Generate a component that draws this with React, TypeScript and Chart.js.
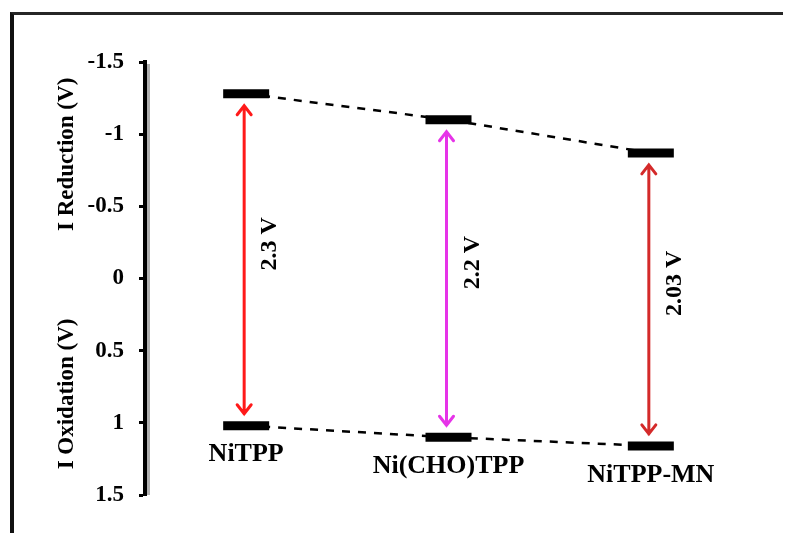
import React, { useEffect, useRef } from "react";
import { Chart, registerables } from "chart.js";

Chart.register(...registerables);

// Energy levels (V) for each porphyrin
const categories = ["NiTPP", "Ni(CHO)TPP", "NiTPP-MN"];
const reductionLevels = [-1.28, -1.1, -0.87];
const oxidationLevels = [1.02, 1.1, 1.16];
const gapLabels = ["2.3 V", "2.2 V", "2.03 V"];
const arrowColors = ["#ff1a1a", "#e633e8", "#d42a2a"];
const yTicks = [-1.5, -1, -0.5, 0, 0.5, 1, 1.5];
const reductionTitle = "I Reduction (V)";
const oxidationTitle = "I Oxidation (V)";

const FONT = "'Liberation Serif', 'Times New Roman', serif";

const annotate = {
  id: "annotate",
  afterDatasetsDraw(chart: any) {
    const { ctx, chartArea } = chart;
    const xs = chart.scales.x;
    const ys = chart.scales.y;
    ctx.save();

    // soft shadow beside the value axis
    ctx.strokeStyle = "#b0b0b0";
    ctx.lineWidth = 3;
    ctx.beginPath();
    ctx.moveTo(chartArea.left + 3.5, chartArea.top + 2);
    ctx.lineTo(chartArea.left + 3.5, chartArea.bottom);
    ctx.stroke();

    // double-headed arrows for each gap
    categories.forEach((name, i) => {
      const x = xs.getPixelForValue(i) - 2;
      const yTop = ys.getPixelForValue(reductionLevels[i]) + 12;
      const yBot = ys.getPixelForValue(oxidationLevels[i]) - 12;
      ctx.strokeStyle = arrowColors[i];
      ctx.lineWidth = 3;
      ctx.lineCap = "round";
      ctx.beginPath();
      ctx.moveTo(x, yTop);
      ctx.lineTo(x, yBot);
      ctx.moveTo(x - 7, yTop + 9);
      ctx.lineTo(x, yTop);
      ctx.lineTo(x + 7, yTop + 9);
      ctx.moveTo(x - 7, yBot - 9);
      ctx.lineTo(x, yBot);
      ctx.lineTo(x + 7, yBot - 9);
      ctx.stroke();

      // gap label, rotated
      const mid = (yTop + yBot) / 2 - 16;
      ctx.save();
      ctx.translate(x + 26, mid);
      ctx.rotate(-Math.PI / 2);
      ctx.fillStyle = "#000";
      ctx.font = `bold 24px ${FONT}`;
      ctx.textAlign = "center";
      ctx.textBaseline = "middle";
      ctx.fillText(gapLabels[i], 0, 0);
      ctx.restore();

      // compound name under the oxidation level
      ctx.fillStyle = "#000";
      ctx.font = `bold 26px ${FONT}`;
      ctx.textAlign = "center";
      ctx.textBaseline = "middle";
      ctx.fillText(name, xs.getPixelForValue(i), ys.getPixelForValue(oxidationLevels[i]) + 29);
    });

    // split axis titles
    const titleX = chartArea.left - 78;
    [
      [reductionTitle, -0.86],
      [oxidationTitle, 0.8],
    ].forEach(([text, v]: any) => {
      ctx.save();
      ctx.translate(titleX, ys.getPixelForValue(v));
      ctx.rotate(-Math.PI / 2);
      ctx.fillStyle = "#000";
      ctx.font = `bold 23px ${FONT}`;
      ctx.textAlign = "center";
      ctx.textBaseline = "middle";
      ctx.fillText(text, 0, 0);
      ctx.restore();
    });

    ctx.restore();
  },
};

export default function App() {
  const canvasRef = useRef<HTMLCanvasElement | null>(null);

  useEffect(() => {
    if (!canvasRef.current) return;
    const levelBar = (data: number[]) => ({
      type: "line" as const,
      data,
      showLine: false,
      pointStyle: "line" as const,
      pointRadius: 23,
      pointHoverRadius: 23,
      pointBorderWidth: 9,
      pointBorderColor: "#000",
      borderColor: "#000",
      order: 0,
    });
    const dashed = (data: number[]) => ({
      type: "line" as const,
      data,
      borderColor: "#000",
      borderWidth: 2.5,
      borderDash: [8, 8],
      pointRadius: 0,
      fill: false,
      order: 1,
    });

    const chart = new Chart(canvasRef.current, {
      type: "line",
      data: {
        labels: categories,
        datasets: [
          levelBar(reductionLevels),
          levelBar(oxidationLevels),
          dashed(reductionLevels),
          dashed(oxidationLevels),
        ] as any,
      },
      options: {
        animation: false,
        responsive: true,
        maintainAspectRatio: false,
        layout: { padding: { top: 54, right: 39, bottom: 38, left: 0 } },
        plugins: {
          legend: { display: false },
          tooltip: { enabled: false },
        },
        scales: {
          x: {
            type: "category",
            display: false,
            offset: true,
          },
          y: {
            reverse: true,
            min: -1.5,
            max: 1.5,
            afterFit: (s: any) => {
              s.width = 137;
            },
            afterBuildTicks: (s: any) => {
              s.ticks = yTicks.map((v) => ({ value: v }));
            },
            border: { display: true, color: "#000", width: 4 },
            grid: {
              drawOnChartArea: false,
              drawTicks: true,
              tickLength: 6,
              tickWidth: 3,
              tickColor: "#000",
            },
            ticks: {
              padding: 15,
              color: "#000",
              font: { family: FONT, size: 23, weight: "bold" },
              callback: (v: any) => String(v),
            },
          },
        },
      },
      plugins: [annotate],
    });
    return () => chart.destroy();
  }, []);

  return (
    <div style={{ position: "relative", width: 783, height: 525, overflow: "hidden" }}>
      <div
        style={{
          position: "absolute",
          left: 2,
          top: 4,
          width: 900,
          height: 700,
          borderTop: "3px solid #262626",
          borderLeft: "4px solid #111",
        }}
      />
      <div style={{ position: "absolute", inset: 0 }}>
        <canvas ref={canvasRef} />
      </div>
    </div>
  );
}
